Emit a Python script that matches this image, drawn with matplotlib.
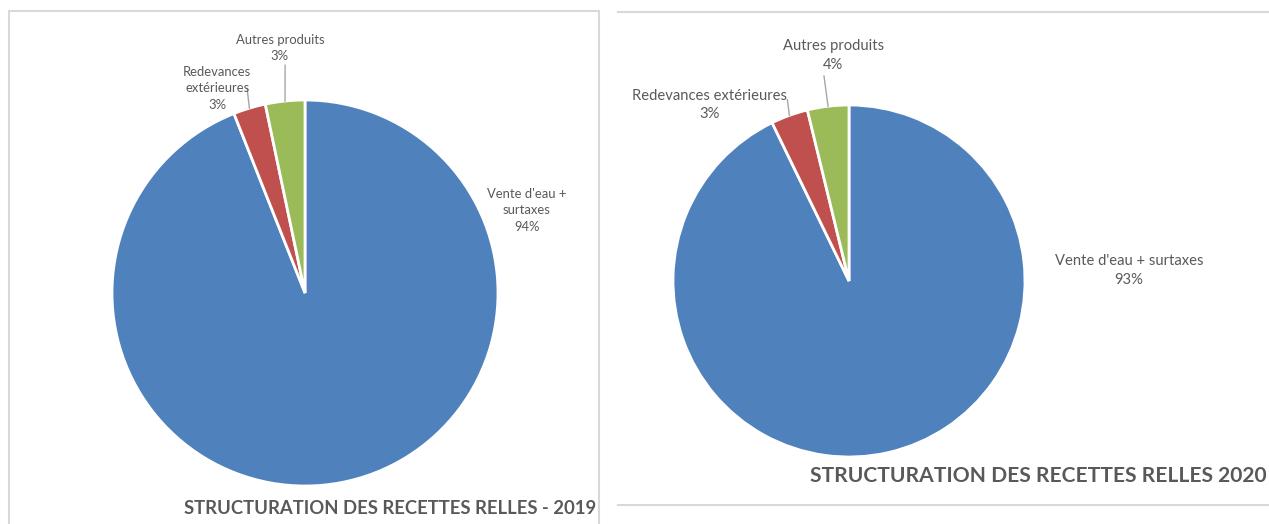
import numpy as np
import matplotlib.pyplot as plt
from matplotlib.lines import Line2D
from matplotlib.patches import Rectangle

# data
categories = ["Vente d'eau +\nsurtaxes", "Redevances\nextérieures", "Autres produits"]
categories_2020 = ["Vente d'eau + surtaxes", "Redevances extérieures", "Autres produits"]
values_2019 = [94.0, 2.7, 3.3]
values_2020 = [92.8, 3.4, 3.8]
title_2019 = "STRUCTURATION DES RECETTES RELLES - 2019"
title_2020 = "STRUCTURATION DES RECETTES RELLES 2020"

colors = ["#4F81BD", "#C0504D", "#9BBB59"]
txt_col = "#595959"
frame_col = "#D9D9D9"

W, H = 1269, 524
plt.rcParams['font.family'] = ['Lato', 'DejaVu Sans']
fig = plt.figure(figsize=(W / 100, H / 100), dpi=100)


def px_axes(cx, cy, r):
    # square axes around a pie given in pixel coordinates
    return fig.add_axes([(cx - r) / W, (H - cy - r) / H, 2 * r / W, 2 * r / H])


def draw_pie(ax, values, labels, fs, label_pos, leader_ends):
    wedges, _ = ax.pie(values, colors=colors, startangle=90, counterclock=False,
                       radius=1, wedgeprops=dict(edgecolor="white", linewidth=2))
    ax.set_xlim(-1, 1)
    ax.set_ylim(-1, 1)
    ax.axis("off")
    for w, lab, v, pos, end in zip(wedges, labels, values, label_pos, leader_ends):
        ax.text(pos[0], pos[1], f"{lab}\n{round(v):d}%", ha="center", va="center",
                fontsize=fs, color=txt_col, linespacing=1.45, clip_on=False)
        if end is not None:
            mid = np.deg2rad((w.theta1 + w.theta2) / 2)
            ax.add_line(Line2D([np.cos(mid), end[0]], [np.sin(mid), end[1]],
                               color="#A6A6A6", lw=1, clip_on=False))


# frames
fig.add_artist(Rectangle((9 / W, -0.05), 590 / W, 1.05 - 11 / H, transform=fig.transFigure,
                         fill=False, edgecolor=frame_col, lw=1.5))
fig.add_artist(Line2D([618 / W, 1], [1 - 12 / H] * 2, color=frame_col, lw=1.5))
fig.add_artist(Line2D([618 / W, 1], [1 - 505 / H] * 2, color=frame_col, lw=1.5))

ax1 = px_axes(305, 293, 193)
draw_pie(ax1, values_2019, categories, 9.4,
         [(1.15, 0.43), (-0.455, 1.06), (-0.13, 1.27)],
         [None, (-0.30, 1.06), (-0.103, 1.18)])

ax2 = px_axes(849, 281, 176)
draw_pie(ax2, values_2020, categories_2020, 10.6,
         [(1.59, 0.06), (-0.79, 1.0), (-0.09, 1.28)],
         [None, (-0.35, 1.03), (-0.142, 1.165)])

fig.text(390 / W, 1 - 509 / H, title_2019, ha="center", va="center",
         fontsize=13.3, fontweight="bold", color=txt_col)
fig.text(1038 / W, 1 - 476 / H, title_2020, ha="center", va="center",
         fontsize=15.1, fontweight="bold", color=txt_col)

fig.savefig("out.png", dpi=100)
